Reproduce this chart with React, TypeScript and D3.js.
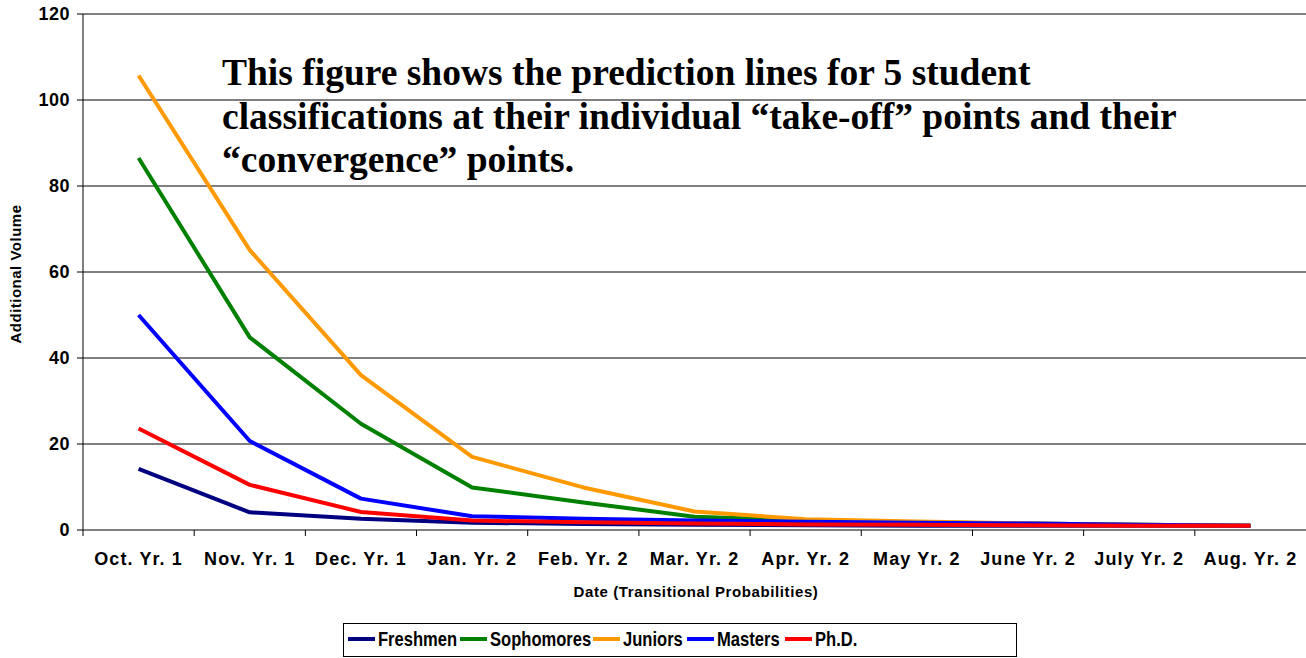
import React from 'react';
import * as d3 from 'd3';

const months = ['Oct. Yr. 1', 'Nov. Yr. 1', 'Dec. Yr. 1', 'Jan. Yr. 2', 'Feb. Yr. 2', 'Mar. Yr. 2', 'Apr. Yr. 2', 'May Yr. 2', 'June Yr. 2', 'July Yr. 2', 'Aug. Yr. 2'];
const yTicks = [0, 20, 40, 60, 80, 100, 120];

const freshmen = [14.2, 4.1, 2.6, 1.7, 1.4, 1.2, 1.1, 1.0, 1.0, 1.0, 1.0];
const sophomores = [86.5, 44.8, 24.7, 9.9, 6.4, 3.1, 2.2, 1.8, 1.5, 1.2, 1.0];
const juniors = [105.7, 65.1, 36.0, 17.0, 9.9, 4.3, 2.5, 2.0, 1.5, 1.2, 1.0];
const masters = [50.0, 20.7, 7.3, 3.2, 2.6, 2.2, 1.9, 1.7, 1.5, 1.2, 1.0];
const phd = [23.6, 10.5, 4.2, 2.2, 1.8, 1.5, 1.3, 1.2, 1.1, 1.0, 1.0];

const seriesNames = ['Freshmen', 'Sophomores', 'Juniors', 'Masters', 'Ph.D.'];
const seriesColors = ['#000080', '#008000', '#FF9900', '#0000FF', '#FF0000'];
const seriesData = [freshmen, sophomores, juniors, masters, phd];

const note = [
  'This figure shows the prediction lines for 5 student',
  'classifications at their individual \u201Ctake-off\u201D points and their',
  '\u201Cconvergence\u201D points.',
];

const W = 1306, H = 658;
const left = 83, right = 1306, top = 14, bottom = 530;
const arial = 'Arial, "Liberation Sans", sans-serif';

export default function App() {
  const x = d3.scaleBand<string>().domain(months).range([left, right]);
  const y = d3.scaleLinear().domain([0, 120]).range([bottom, top]);
  const line = d3.line<number>()
    .x((_, i) => x(months[i])! + x.bandwidth() / 2)
    .y((d) => y(d));

  // legend item positions (line start x)
  const legendX = [348, 460, 593, 687, 785];

  return (
    <svg width={W} height={H} style={{ position: 'absolute', left: 0, top: 0, background: '#fff' }}>
      {/* gridlines */}
      {yTicks.filter((t) => t > 0 && t < 120).map((t) => (
        <line key={t} x1={left} x2={right} y1={y(t)} y2={y(t)} stroke="#000" strokeWidth={1} />
      ))}
      <line x1={left} x2={right} y1={y(120)} y2={y(120)} stroke="#808080" strokeWidth={2} />

      {/* y axis */}
      <line x1={left} x2={left} y1={top} y2={bottom} stroke="#000" strokeWidth={1} />
      {yTicks.map((t) => (
        <g key={t}>
          <line x1={left - 6} x2={left} y1={y(t)} y2={y(t)} stroke="#000" />
          <text x={left - 13} y={y(t)} dy="0.36em" textAnchor="end" fontFamily={arial} fontWeight="bold" fontSize={18} letterSpacing={0.5}>{t}</text>
        </g>
      ))}

      {/* x axis */}
      {months.map((m) => (
        <g key={m}>
          <line x1={x(m)!} x2={x(m)!} y1={bottom} y2={bottom + 6} stroke="#000" />
          <text x={x(m)! + x.bandwidth() / 2} y={565} textAnchor="middle" fontFamily={arial} fontWeight="bold" fontSize={18} letterSpacing={1.1}>{m}</text>
        </g>
      ))}

      {/* series */}
      {seriesData.map((s, i) => (
        <path key={seriesNames[i]} d={line(s)!} fill="none" stroke={seriesColors[i]} strokeWidth={4} strokeLinejoin="round" />
      ))}
      <line x1={left} x2={right} y1={bottom} y2={bottom} stroke="#000" strokeWidth={1} />

      {/* annotation */}
      {note.map((t, i) => (
        <text key={i} x={222} y={85 + i * 43.5} fontFamily='"Times New Roman", "Liberation Serif", serif' fontWeight="bold" fontSize={37.5}>{t}</text>
      ))}

      {/* axis titles */}
      <text transform={`translate(21,274) rotate(-90)`} textAnchor="middle" fontFamily={arial} fontWeight="bold" fontSize={15} letterSpacing={0.5}>Additional Volume</text>
      <text x={696} y={597} textAnchor="middle" fontFamily={arial} fontWeight="bold" fontSize={15} letterSpacing={0.6}>Date (Transitional Probabilities)</text>

      {/* legend */}
      <rect x={343.5} y={623.5} width={673} height={33} fill="#fff" stroke="#000" strokeWidth={1} />
      {seriesNames.map((n, i) => (
        <g key={n}>
          <line x1={legendX[i]} x2={legendX[i] + 27} y1={639} y2={639} stroke={seriesColors[i]} strokeWidth={4} />
          <text transform={`translate(${legendX[i] + 30},639) scale(0.85,1)`} dy="0.36em" fontFamily={arial} fontWeight="bold" fontSize={19.5}>{n}</text>
        </g>
      ))}
    </svg>
  );
}
